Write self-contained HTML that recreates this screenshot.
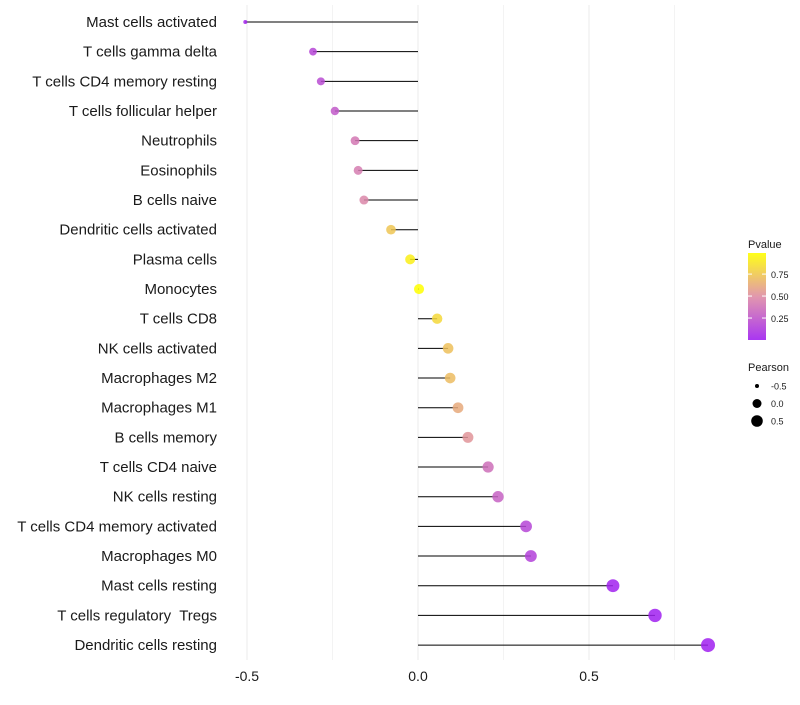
<!DOCTYPE html>
<html><head><meta charset="utf-8"><style>
body{margin:0;background:#fff;font-family:"Liberation Sans",sans-serif}
text{white-space:pre}
</style></head><body>
<svg id="chart" width="800" height="700" xmlns="http://www.w3.org/2000/svg" font-family="Liberation Sans, sans-serif"></svg>
<script>
const categories=["Mast cells activated","T cells gamma delta","T cells CD4 memory resting","T cells follicular helper","Neutrophils","Eosinophils","B cells naive","Dendritic cells activated","Plasma cells","Monocytes","T cells CD8","NK cells activated","Macrophages M2","Macrophages M1","B cells memory","T cells CD4 naive","NK cells resting","T cells CD4 memory activated","Macrophages M0","Mast cells resting","T cells regulatory  Tregs","Dendritic cells resting"];
const pearson=[-0.505,-0.307,-0.284,-0.243,-0.184,-0.175,-0.158,-0.079,-0.023,0.003,0.056,0.088,0.094,0.117,0.146,0.205,0.234,0.316,0.330,0.570,0.693,0.848];
const pvalues=[0.02,0.17,0.2,0.26,0.4,0.42,0.47,0.74,0.92,0.99,0.82,0.72,0.7,0.62,0.53,0.36,0.3,0.17,0.15,0.01,0.001,0.0001];
const xTicks=[-0.5,0,0.5];
const xTickLabels=["-0.5","0.0","0.5"];
const pLegendTicks=[0.25,0.5,0.75];
const sizeLegend=[-0.5,0,0.5];

const svg=document.getElementById('chart');
const NS="http://www.w3.org/2000/svg";
function mk(t,a,p){const e=document.createElementNS(NS,t);for(const k in a)e.setAttribute(k,a[k]);(p||svg).appendChild(e);return e;}
const x=v=>418+v*342;
const y=i=>22+i*29.67;
const pMin=0,pMax=0.99;
const cLow=[160,32,240],cMid=[222,140,165],cHigh=[255,255,0];
function col(p){let t=Math.max(0,Math.min(1,(p-pMin)/(pMax-pMin)));let a,b;if(t<0.5){a=cLow;b=cMid;t=t*2;}else{a=cMid;b=cHigh;t=(t-0.5)*2;}return `rgb(${a.map((c,k)=>Math.round(c+(b[k]-c)*t)).join(',')})`;}
const rad=r=>2+5*Math.sqrt(Math.max(0,(r+0.505)/1.353));

for(let v=-0.5;v<=0.76;v+=0.25){
 const g=mk('line',{x1:x(v),x2:x(v),y1:5,y2:660,stroke:'#ebebeb','stroke-width':Math.abs(v*4%2)<0.01?1:0.6});
 
 
}
xTicks.forEach((v,i)=>{
 const t=mk('text',{x:x(v),y:681,'text-anchor':'middle','font-size':14,fill:'#1a1a1a'});
 t.textContent=xTickLabels[i];
 
 
});
categories.forEach((c,i)=>{
 const t=mk('text',{x:217,y:y(i)+5,'text-anchor':'end','font-size':15,fill:'#1a1a1a'});
 t.textContent=c;
 
 
 const l=mk('line',{x1:x(0),x2:x(pearson[i]),y1:y(i),y2:y(i),stroke:'#000','stroke-width':1});
 
 
 const d=mk('circle',{cx:x(pearson[i]),cy:y(i),r:rad(pearson[i]),fill:col(pvalues[i]),'fill-opacity':0.85});
 
 
});
const lt=mk('text',{x:748,y:248,'font-size':11,fill:'#1a1a1a'});lt.textContent='Pvalue';


const defs=mk('defs',{});
const gr=mk('linearGradient',{id:'pg',x1:0,y1:1,x2:0,y2:0},defs);
for(let k=0;k<=10;k++)mk('stop',{offset:k/10,'stop-color':col(pMin+(pMax-pMin)*k/10),'stop-opacity':0.9},gr);
const bar=mk('rect',{x:748,y:253,width:18,height:87,fill:'url(#pg)'});


const by=p=>340-(p-pMin)/(pMax-pMin)*87;
pLegendTicks.forEach(p=>{
 mk('line',{x1:748,x2:752,y1:by(p),y2:by(p),stroke:'#fff'});mk('line',{x1:762,x2:766,y1:by(p),y2:by(p),stroke:'#fff'});
 const t=mk('text',{x:771,y:by(p)+4,'font-size':9,fill:'#1a1a1a'});t.textContent=p.toFixed(2);
 
 
});
const st=mk('text',{x:748,y:371,'font-size':11,fill:'#1a1a1a'});st.textContent='Pearson';


const legR=[2,4.5,5.8];
sizeLegend.forEach((v,i)=>{
 const cy=386+i*17.5;
 const c=mk('circle',{cx:757,cy:cy,r:legR[i],fill:'#000'});
 
 
 const t=mk('text',{x:771,y:cy+3.5,'font-size':9,fill:'#1a1a1a'});t.textContent=v.toFixed(1);
 
 
});
</script>
</body></html>
